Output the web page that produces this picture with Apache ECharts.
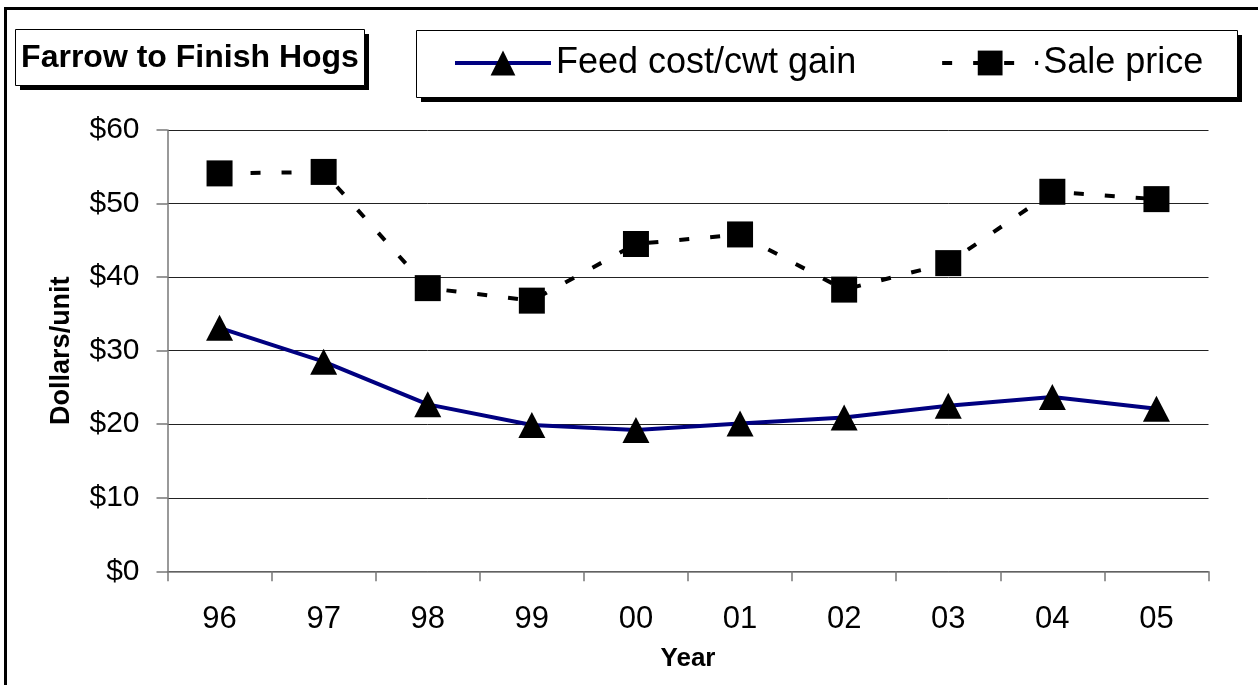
<!DOCTYPE html>
<html>
<head>
<meta charset="utf-8">
<title>Farrow to Finish Hogs</title>
<script src="https://cdn.jsdelivr.net/npm/echarts@6/dist/echarts.min.js"></script>
<style>
  html, body { margin: 0; padding: 0; background: #fff; }
  #chart { width: 1258px; height: 685px; }
</style>
</head>
<body>
<div id="chart"></div>
<script>
// data
const years = ['96', '97', '98', '99', '00', '01', '02', '03', '04', '05']
const feedCost = [33.1, 28.5, 22.7, 19.9, 19.2, 20.1, 20.9, 22.5, 23.7, 22.1]
const salePrice = [54.1, 54.3, 38.5, 36.8, 44.5, 45.8, 38.3, 41.9, 51.6, 50.6]
const yTicks = [0, 10, 20, 30, 40, 50, 60]

const FONT = '"Liberation Sans", Arial, sans-serif'

const chart = echarts.init(document.getElementById('chart'))

const option = {
  animation: false,
  backgroundColor: '#fff',
  textStyle: { fontFamily: FONT, color: '#000' },
  graphic: [
    // outer frame (right/bottom run off the picture)
    { type: 'rect', z: 0, shape: { x: 5.5, y: 8.5, width: 1400, height: 800 },
      style: { fill: null, stroke: '#000', lineWidth: 3 } },
    // title box + shadow
    { type: 'rect', z: 0, shape: { x: 20, y: 34, width: 349, height: 56 }, style: { fill: '#000' } },
    { type: 'rect', z: 1, shape: { x: 15.5, y: 29.5, width: 349, height: 56 },
      style: { fill: '#fff', stroke: '#000', lineWidth: 1 } },
    { type: 'text', z: 2, x: 190, y: 58,
      style: { text: 'Farrow to Finish Hogs', font: 'bold 32px ' + FONT, fill: '#000',
        textAlign: 'center', textVerticalAlign: 'middle' } },
    // legend box + shadow
    { type: 'rect', z: 0, shape: { x: 421, y: 35, width: 821, height: 67 }, style: { fill: '#000' } },
    { type: 'rect', z: 1, shape: { x: 416.5, y: 30.5, width: 821, height: 67 },
      style: { fill: '#fff', stroke: '#000', lineWidth: 1 } }
  ],
  legend: {
    left: 453,
    top: 45,
    padding: 0,
    itemWidth: 96,
    itemHeight: 31,
    itemGap: 84,
    z: 5,
    lineStyle: { width: 4 },
    textStyle: { fontSize: 36, fontFamily: FONT, color: '#000' },
    data: ['Feed cost/cwt gain', 'Sale price']
  },
  grid: {
    left: 167.5,
    right: 49.5,
    top: 130,
    bottom: 113.7
  },
  xAxis: {
    type: 'category',
    data: years,
    boundaryGap: true,
    name: 'Year',
    nameLocation: 'middle',
    nameGap: 75,
    nameTextStyle: { fontSize: 26, fontWeight: 'bold', fontFamily: FONT, color: '#000' },
    axisLine: { lineStyle: { color: '#777', width: 1.5 } },
    axisTick: { show: true, length: 10, lineStyle: { color: '#777', width: 1.5 } },
    axisLabel: { fontSize: 31, color: '#000', margin: 33, fontFamily: FONT },
    splitLine: { show: false }
  },
  yAxis: {
    type: 'value',
    min: yTicks[0],
    max: yTicks[yTicks.length - 1],
    interval: 10,
    name: 'Dollars/unit',
    nameLocation: 'middle',
    nameRotate: 90,
    nameGap: 92,
    nameTextStyle: { fontSize: 27, fontWeight: 'bold', fontFamily: FONT, color: '#000' },
    axisLine: { show: true, lineStyle: { color: '#777', width: 1.5 } },
    axisTick: { show: true, length: 11, lineStyle: { color: '#777', width: 1.5 } },
    axisLabel: { fontSize: 30, color: '#000', margin: 28, fontFamily: FONT,
      formatter: (v) => '$' + v },
    splitLine: { show: true, lineStyle: { color: '#222', width: 1 } }
  },
  series: [
    {
      name: 'Feed cost/cwt gain',
      type: 'line',
      data: feedCost,
      symbol: 'triangle',
      symbolSize: [27, 26],
      itemStyle: { color: '#000', borderWidth: 0 },
      lineStyle: { color: '#000080', width: 4 },
      z: 3
    },
    {
      name: 'Sale price',
      type: 'line',
      data: salePrice,
      symbol: 'rect',
      symbolSize: 26,
      itemStyle: { color: '#000', borderWidth: 0 },
      lineStyle: { color: '#000', width: 4, type: [10, 21] },
      z: 3
    }
  ]
}

chart.setOption(option)
</script>
</body>
</html>
